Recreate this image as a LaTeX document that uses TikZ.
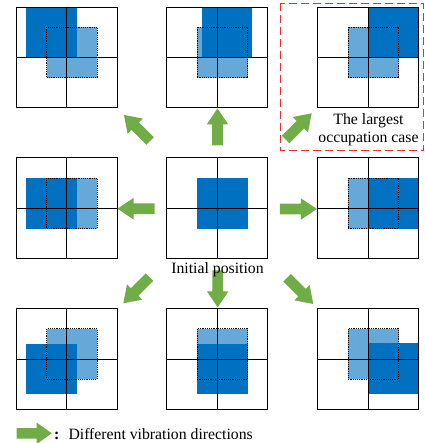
\documentclass[tikz,border=0pt]{standalone}
\usepackage{fontspec}
\setmainfont{Liberation Serif}

\definecolor{darkblue}{RGB}{0,112,192}
\definecolor{lightblue}{RGB}{102,168,216}
\definecolor{arrowgreen}{RGB}{112,173,71}
\definecolor{boxred}{RGB}{240,45,45}

\tikzset{
  gridbox/.style={draw=black, line width=0.8pt, minimum size=100.8pt, inner sep=0pt, outer sep=0pt},
  gridline/.style={black, line width=0.8pt},
  startedge/.style={black, line width=0.7pt, dash pattern=on 1.2pt off 1pt},
  txt/.style={inner sep=0pt, font=\fontsize{15.75}{18}\selectfont},
  vibarrow/.pic={
    \fill[arrowgreen] (-18.5,-5.3) -- (2.5,-5.3) -- (2.5,-10.8) -- (18.5,0)
      -- (2.5,10.8) -- (2.5,5.3) -- (-18.5,5.3) -- cycle;
  }
}

% one cell: #1 name, #2 centre, #3/#4 shift of the moved square
\newcommand\vibpanel[4]{%
  \begin{scope}[shift={#2}]
    \fill[lightblue] (-20,-30.3) rectangle (30.5,20.3);
    \fill[darkblue, shift={(#3,#4)}] (-20,-30.3) rectangle (30.5,20.3);
    \node[gridbox] (#1) at (0,0) {};
    \draw[gridline] (#1.north) -- (#1.south);
    \draw[gridline] (#1.west) -- (#1.east);
    \draw[startedge] (-20,-30.3) rectangle (30.5,20.3);
  \end{scope}%
}

\begin{document}
\begin{tikzpicture}[x=1pt, y=-1pt]
  \useasboundingbox (0,0) rectangle (424,443);

  % largest occupation frame
  \draw[boxred, line width=1pt, dash pattern=on 8pt off 4pt] (280.7,3.3) rectangle (423,151);

  % centre cell: initial position
  \begin{scope}[shift={(217.2,208.2)}]
    \fill[darkblue] (-20,-30.3) rectangle (30.5,20.3);
    \node[gridbox] (c) at (0,0) {};
    \draw[gridline] (c.north) -- (c.south);
    \draw[gridline] (c.west) -- (c.east);
  \end{scope}

  % surrounding cells
  \vibpanel{nw}{(66.7,57.5)}{-20.4}{-20.2}
  \vibpanel{n}{(217.2,57.5)}{4.7}{-20.2}
  \vibpanel{ne}{(368.2,57.5)}{20.2}{-20.2}
  \vibpanel{w}{(66.7,208.2)}{-20.4}{0}
  \vibpanel{e}{(368.2,208.2)}{20.2}{0}
  \vibpanel{sw}{(66.7,359)}{-20.4}{15}
  \vibpanel{s}{(217.2,359)}{0}{15}
  \vibpanel{se}{(368.2,359)}{20.2}{14.3}

  % vibration direction arrows
  \pic[rotate=135] at (137,128) {vibarrow};
  \pic[rotate=90]  at (217.5,127) {vibarrow};
  \pic[rotate=45]  at (298.6,126.4) {vibarrow};
  \pic[rotate=180] at (136,208.7) {vibarrow};
  \pic             at (298.3,209) {vibarrow};
  \pic[rotate=225] at (136.4,290.2) {vibarrow};
  \pic[rotate=270] at (217.7,288.8) {vibarrow};
  \pic[rotate=315] at (300.2,290.9) {vibarrow};

  % labels
  \node[txt, anchor=base] (init) at (217.5,273) {Initial position};
  \node[txt, anchor=base] (big1) at (368.5,124.3) {The largest};
  \node[txt, anchor=base] (big2) at (368.5,142.3) {occupation case};

  % legend
  \pic[xscale=0.95] at (34.2,433.3) {vibarrow};
  \node[txt, anchor=base west] (colon) at (54,439.3) {\bfseries :};
  \node[txt, anchor=base west] (legend) at (68.3,439.3) {Different vibration directions};
\end{tikzpicture}
\end{document}
